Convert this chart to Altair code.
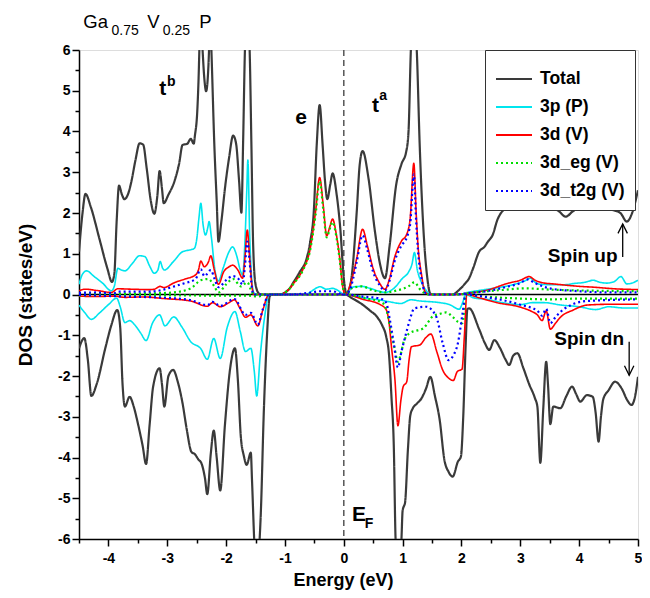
import altair as alt
import pandas as pd

# ---------------- data ----------------
total_up = [(-4.50, 1.05), (-4.44, 2.0), (-4.39, 2.47), (-4.30, 2.15), (-4.15, 1.35), (-4.02, 0.65),
            (-3.94, 0.31), (-3.90, 0.5), (-3.86, 1.8), (-3.82, 2.67), (-3.77, 2.45), (-3.73, 2.34),
            (-3.67, 2.45), (-3.61, 2.77), (-3.54, 3.3), (-3.47, 3.71), (-3.41, 3.68), (-3.35, 3.1),
            (-3.28, 2.3), (-3.22, 1.98), (-3.17, 2.4), (-3.13, 3.03), (-3.09, 2.6), (-3.06, 2.24),
            (-2.98, 2.45), (-2.88, 2.77), (-2.80, 3.2), (-2.74, 3.67), (-2.66, 3.7), (-2.60, 3.82),
            (-2.55, 3.7), (-2.53, 3.9), (-2.49, 4.5), (-2.47, 5.2), (-2.45, 6.2), (-2.43, 6.8),
            (-2.40, 6.0), (-2.37, 5.3), (-2.34, 4.99), (-2.30, 5.63), (-2.29, 6.0), (-2.27, 6.8),
            (-2.25, 6.0), (-2.20, 3.67), (-2.16, 2.3), (-2.13, 1.30), (-2.08, 1.8), (-2.02, 2.6),
            (-1.95, 3.35), (-1.88, 3.90), (-1.83, 3.7), (-1.78, 2.8), (-1.74, 2.01), (-1.71, 3.8),
            (-1.68, 6.0), (-1.64, 7.0), (-1.60, 6.0), (-1.57, 3.67), (-1.54, 1.2), (-1.50, 0.25),
            (-1.44, 0.02), (-1.40, 0.0), (-1.08, 0.0), (-1.00, 0.05), (-0.92, 0.15), (-0.85, 0.31),
            (-0.75, 0.55), (-0.63, 0.89), (-0.57, 1.3), (-0.51, 2.03), (-0.46, 3.67), (-0.41, 4.65),
            (-0.36, 3.67), (-0.32, 2.8), (-0.28, 2.34), (-0.23, 2.7), (-0.19, 2.97), (-0.12, 2.44),
            (-0.06, 1.63), (0.0, 0.4), (0.05, 0.0), (0.13, 0.4), (0.22, 2.03), (0.27, 3.18),
            (0.32, 3.52), (0.42, 2.85), (0.53, 1.54), (0.62, 0.72), (0.70, 0.40), (0.78, 1.21),
            (0.89, 2.69), (0.98, 3.2), (1.06, 3.5), (1.10, 4.0), (1.14, 6.0), (1.19, 7.0),
            (1.24, 6.0), (1.29, 3.67), (1.37, 1.21), (1.42, 0.4), (1.47, 0.02), (1.52, 0.0),
            (1.85, 0.0), (1.95, 0.1), (2.05, 0.25), (2.13, 0.40), (2.20, 0.65), (2.30, 1.05),
            (2.39, 1.17), (2.45, 1.3), (2.53, 1.46), (2.61, 1.83), (2.70, 2.05), (2.90, 2.2),
            (3.20, 2.25), (3.50, 2.15), (3.65, 2.05), (3.77, 1.91), (3.90, 2.05), (4.20, 2.2),
            (4.50, 2.1), (4.70, 2.0), (4.81, 1.79), (4.90, 2.0), (5.00, 2.56)]

total_dn = [(-4.50, -1.32), (-4.41, -1.07), (-4.35, -1.6), (-4.29, -2.49), (-4.20, -2.2), (-4.05, -1.3),
            (-3.95, -0.75), (-3.85, -0.38), (-3.80, -0.8), (-3.76, -2.2), (-3.72, -2.75), (-3.64, -2.51),
            (-3.57, -2.75), (-3.50, -3.16), (-3.42, -3.7), (-3.36, -4.16), (-3.30, -3.2), (-3.24, -2.26),
            (-3.13, -1.81), (-3.09, -2.2), (-3.05, -2.75), (-2.98, -2.0), (-2.90, -1.85), (-2.82, -2.15),
            (-2.74, -2.67), (-2.67, -3.3), (-2.59, -3.86), (-2.53, -3.92), (-2.47, -4.05), (-2.42, -4.14),
            (-2.36, -4.5), (-2.32, -4.90), (-2.26, -3.9), (-2.21, -3.34), (-2.16, -4.0), (-2.10, -4.81),
            (-2.02, -3.2), (-1.93, -1.8), (-1.85, -1.32), (-1.80, -2.1), (-1.75, -3.49), (-1.70, -3.95),
            (-1.65, -4.18), (-1.58, -3.88), (-1.56, -4.55), (-1.52, -6.1), (-1.48, -7.0), (-1.43, -6.0),
            (-1.41, -5.36), (-1.36, -2.91), (-1.30, -0.87), (-1.26, -0.05), (-1.22, 0.0),
            (0.02, 0.0), (0.15, -0.1), (0.33, -0.26), (0.45, -0.4), (0.56, -0.54), (0.65, -0.75),
            (0.72, -1.03), (0.77, -1.5), (0.81, -2.51), (0.85, -3.73), (0.88, -6.0), (0.93, -7.0),
            (0.98, -6.0), (1.00, -5.3), (1.02, -5.2), (1.04, -5.12), (1.09, -3.8), (1.13, -2.97),
            (1.17, -2.8), (1.24, -2.68), (1.32, -2.55), (1.40, -2.3), (1.47, -2.02), (1.55, -2.5),
            (1.63, -3.08), (1.71, -4.06), (1.78, -4.35), (1.85, -4.47), (1.94, -4.10), (1.99, -3.98),
            (2.03, -3.0), (2.07, -1.28), (2.10, -0.36), (2.13, -0.34), (2.30, -0.85), (2.40, -1.2),
            (2.47, -1.36), (2.56, -1.12), (2.65, -1.3), (2.75, -1.6), (2.81, -1.73), (2.88, -1.5),
            (2.95, -1.44), (3.05, -1.8), (3.15, -2.2), (3.25, -2.55), (3.29, -2.75), (3.34, -4.13),
            (3.39, -2.8), (3.44, -1.65), (3.47, -2.2), (3.51, -3.18), (3.56, -2.75), (3.68, -2.79),
            (3.78, -2.5), (3.88, -2.26), (3.95, -2.45), (4.02, -2.63), (4.13, -2.47), (4.23, -2.51),
            (4.28, -2.9), (4.33, -3.61), (4.37, -3.0), (4.41, -2.57), (4.50, -2.35), (4.61, -2.14),
            (4.72, -2.3), (4.82, -2.6), (4.89, -2.71), (4.95, -2.5), (5.00, -2.02)]

p3_up = [(-4.50, 0.25), (-4.44, 0.5), (-4.37, 0.58), (-4.25, 0.45), (-4.10, 0.28), (-3.95, 0.09),
         (-3.90, 0.2), (-3.84, 0.64), (-3.78, 0.6), (-3.72, 0.58), (-3.60, 0.75), (-3.47, 0.95),
         (-3.38, 0.93), (-3.30, 0.7), (-3.22, 0.52), (-3.16, 0.6), (-3.12, 0.81), (-3.08, 0.65),
         (-3.05, 0.60), (-2.90, 0.8), (-2.74, 1.05), (-2.60, 1.1), (-2.54, 1.13), (-2.50, 1.35),
         (-2.46, 1.9), (-2.43, 2.24), (-2.39, 1.7), (-2.35, 1.46), (-2.31, 1.65), (-2.29, 1.79),
         (-2.25, 1.4), (-2.19, 0.6), (-2.13, 0.33), (-2.05, 0.65), (-1.95, 1.05), (-1.89, 1.17),
         (-1.82, 0.95), (-1.76, 0.6), (-1.72, 0.48), (-1.68, 1.3), (-1.65, 2.5), (-1.63, 3.30),
         (-1.60, 1.5), (-1.56, 0.3), (-1.53, 0.05), (-1.48, 0.0), (-0.65, 0.0), (-0.55, 0.08),
         (-0.45, 0.17), (-0.40, 0.19), (-0.30, 0.13), (-0.19, 0.15), (-0.10, 0.1), (-0.03, 0.03),
         (0.03, 0.0), (0.10, 0.12), (0.18, 0.19), (0.30, 0.2), (0.45, 0.15), (0.60, 0.08),
         (0.70, 0.05), (0.85, 0.15), (1.00, 0.4), (1.10, 0.55), (1.16, 0.75), (1.20, 1.03),
         (1.25, 0.6), (1.32, 0.3), (1.40, 0.1), (1.47, 0.0), (1.95, 0.0), (2.10, 0.05),
         (2.40, 0.12), (2.67, 0.18), (2.90, 0.25), (3.10, 0.35), (3.17, 0.40), (3.25, 0.3),
         (3.34, 0.25), (3.56, 0.24), (3.75, 0.24), (3.91, 0.27), (4.10, 0.3), (4.24, 0.35),
         (4.35, 0.3), (4.47, 0.28), (4.60, 0.32), (4.71, 0.44), (4.81, 0.26), (4.90, 0.28),
         (5.00, 0.35)]

p3_dn = [(-4.50, -0.26), (-4.40, -0.45), (-4.29, -0.61), (-4.15, -0.45), (-4.00, -0.25), (-3.86, -0.09),
         (-3.80, -0.3), (-3.72, -0.69), (-3.64, -0.64), (-3.55, -0.75), (-3.45, -0.95), (-3.36, -1.13),
         (-3.25, -0.7), (-3.13, -0.50), (-3.04, -0.77), (-2.89, -0.55), (-2.75, -0.8), (-2.60, -1.16),
         (-2.43, -1.33), (-2.32, -1.59), (-2.21, -1.08), (-2.10, -1.57), (-1.98, -0.8), (-1.85, -0.42),
         (-1.76, -0.9), (-1.67, -1.40), (-1.58, -1.32), (-1.52, -1.9), (-1.48, -2.49), (-1.42, -1.5),
         (-1.35, -0.6), (-1.27, 0.0), (0.02, 0.0), (0.20, -0.05), (0.40, -0.1), (0.60, -0.13),
         (0.78, -0.18), (0.97, -0.22), (1.14, -0.13), (1.30, -0.16), (1.50, -0.18), (1.63, -0.2),
         (1.80, -0.25), (1.96, -0.36), (2.02, -0.2), (2.07, 0.0), (2.20, -0.08), (2.44, -0.12),
         (2.70, -0.2), (3.00, -0.25), (3.20, -0.2), (3.40, -0.2), (3.70, -0.26), (4.00, -0.3),
         (4.28, -0.37), (4.50, -0.3), (4.75, -0.33), (5.00, -0.33)]

d3_up = [(-4.50, 0.09), (-4.40, 0.13), (-4.20, 0.1), (-3.95, 0.05), (-3.84, 0.14), (-3.60, 0.13),
         (-3.30, 0.12), (-3.22, 0.13), (-3.12, 0.2), (-3.06, 0.17), (-2.88, 0.29), (-2.70, 0.38),
         (-2.52, 0.48), (-2.47, 0.6), (-2.43, 0.82), (-2.37, 0.68), (-2.30, 0.8), (-2.26, 0.95),
         (-2.20, 0.6), (-2.13, 0.25), (-2.04, 0.56), (-1.95, 0.68), (-1.89, 0.72), (-1.80, 0.6),
         (-1.72, 0.4), (-1.68, 0.9), (-1.64, 1.58), (-1.60, 0.9), (-1.56, 0.2), (-1.53, 0.0),
         (-1.10, 0.0), (-0.95, 0.1), (-0.85, 0.28), (-0.70, 0.6), (-0.57, 1.13), (-0.48, 2.03),
         (-0.41, 2.87), (-0.35, 2.2), (-0.29, 1.44), (-0.24, 1.65), (-0.19, 1.85), (-0.13, 1.5),
         (-0.07, 0.9), (-0.02, 0.2), (0.03, 0.0), (0.10, 0.2), (0.16, 0.5), (0.22, 0.89),
         (0.32, 1.60), (0.40, 1.2), (0.50, 0.63), (0.60, 0.3), (0.70, 0.13), (0.78, 0.4),
         (0.86, 0.89), (0.98, 1.31), (1.07, 1.48), (1.13, 1.9), (1.19, 3.22), (1.23, 2.0),
         (1.26, 1.23), (1.32, 0.5), (1.38, 0.07), (1.45, 0.0), (1.90, 0.0), (2.10, 0.03),
         (2.44, 0.11), (2.80, 0.28), (3.00, 0.35), (3.15, 0.44), (3.25, 0.35), (3.37, 0.29),
         (3.56, 0.26), (4.00, 0.2), (4.24, 0.18), (4.60, 0.14), (5.00, 0.12)]

d3_dn = [(-4.50, -0.04), (-4.20, -0.05), (-3.90, -0.04), (-3.72, -0.07), (-3.40, -0.06), (-3.05, -0.1),
         (-2.60, -0.16), (-2.32, -0.29), (-2.23, -0.2), (-2.10, -0.3), (-1.95, -0.2), (-1.86, -0.13),
         (-1.76, -0.35), (-1.67, -0.56), (-1.58, -0.5), (-1.46, -0.77), (-1.38, -0.4), (-1.27, 0.0),
         (0.02, 0.0), (0.33, -0.12), (0.62, -0.25), (0.72, -0.37), (0.77, -0.7), (0.81, -1.28),
         (0.87, -2.1), (0.92, -3.22), (0.97, -2.6), (1.01, -2.26), (1.07, -2.14), (1.11, -1.6),
         (1.15, -1.28), (1.29, -1.24), (1.40, -1.05), (1.48, -0.97), (1.58, -1.4), (1.68, -1.85),
         (1.78, -2.05), (1.86, -2.11), (1.93, -1.89), (2.01, -1.83), (2.05, -1.0), (2.09, 0.0),
         (2.30, -0.08), (2.60, -0.2), (3.00, -0.31), (3.20, -0.42), (3.29, -0.5), (3.37, -0.64),
         (3.44, -0.4), (3.51, -0.85), (3.60, -0.7), (3.68, -0.56), (3.90, -0.38), (4.13, -0.26),
         (4.50, -0.24), (5.00, -0.24)]

eg_up = [(-4.50, 0.03), (-3.90, 0.02), (-3.20, 0.03), (-2.90, 0.05), (-2.60, 0.15), (-2.43, 0.35),
         (-2.30, 0.38), (-2.20, 0.2), (-2.13, 0.05), (-2.00, 0.25), (-1.88, 0.38), (-1.75, 0.2),
         (-1.64, 0.3), (-1.56, 0.05), (-1.52, 0.0), (-1.10, 0.0), (-0.95, 0.1), (-0.85, 0.27),
         (-0.70, 0.58), (-0.57, 1.1), (-0.48, 1.95), (-0.41, 2.78), (-0.35, 2.1), (-0.29, 1.40),
         (-0.24, 1.6), (-0.19, 1.78), (-0.13, 1.45), (-0.07, 0.85), (-0.02, 0.2), (0.03, 0.0),
         (0.10, 0.12), (0.20, 0.18), (0.30, 0.2), (0.50, 0.1), (0.70, 0.05), (0.90, 0.1),
         (1.10, 0.2), (1.20, 0.3), (1.30, 0.12), (1.45, 0.0), (1.90, 0.0), (2.20, 0.05),
         (2.60, 0.1), (3.10, 0.15), (3.50, 0.12), (4.00, 0.1), (5.00, 0.08)]

eg_dn = [(-4.50, -0.02), (-1.60, -0.03), (-1.46, -0.05), (-1.30, 0.0), (0.02, 0.0), (0.40, -0.1),
         (0.65, -0.2), (0.72, -0.35), (0.80, -0.9), (0.86, -1.3), (0.92, -1.65), (0.97, -1.45),
         (1.02, -1.15), (1.12, -0.95), (1.25, -0.88), (1.35, -0.83), (1.51, -0.54), (1.62, -0.48),
         (1.74, -0.44), (1.85, -0.55), (1.94, -0.67), (2.02, -0.7), (2.07, 0.0), (2.40, -0.05),
         (3.00, -0.1), (3.50, -0.12), (4.00, -0.1), (5.00, -0.1)]

t2g_up = [(-4.50, 0.04), (-4.20, 0.05), (-3.90, 0.03), (-3.84, 0.07), (-3.30, 0.07), (-3.12, 0.1),
          (-2.88, 0.2), (-2.70, 0.28), (-2.52, 0.38), (-2.43, 0.62), (-2.37, 0.45), (-2.26, 0.6),
          (-2.20, 0.4), (-2.13, 0.18), (-2.00, 0.35), (-1.89, 0.45), (-1.80, 0.4), (-1.72, 0.25),
          (-1.68, 0.7), (-1.64, 1.3), (-1.60, 0.8), (-1.56, 0.15), (-1.53, 0.0), (-0.90, 0.0),
          (-0.60, 0.04), (-0.40, 0.08), (-0.20, 0.08), (0.0, 0.0), (0.10, 0.1), (0.16, 0.4),
          (0.22, 0.8), (0.32, 1.45), (0.40, 1.1), (0.50, 0.55), (0.60, 0.25), (0.70, 0.1),
          (0.78, 0.35), (0.86, 0.8), (0.98, 1.2), (1.07, 1.4), (1.13, 1.75), (1.19, 2.95),
          (1.23, 1.8), (1.26, 1.1), (1.32, 0.4), (1.38, 0.05), (1.45, 0.0), (1.90, 0.0),
          (2.10, 0.03), (2.50, 0.1), (2.80, 0.2), (3.00, 0.28), (3.12, 0.37), (3.25, 0.28),
          (3.50, 0.15), (4.00, 0.08), (4.50, 0.05), (5.00, 0.05)]

t2g_dn = [(-4.50, -0.01), (-3.72, -0.05), (-3.05, -0.08), (-2.60, -0.14), (-2.32, -0.26), (-2.23, -0.18),
          (-2.10, -0.28), (-1.86, -0.11), (-1.67, -0.5), (-1.58, -0.45), (-1.46, -0.74), (-1.38, -0.38),
          (-1.27, 0.0), (0.02, 0.0), (0.33, -0.05), (0.62, -0.1), (0.72, -0.2), (0.78, -0.6),
          (0.85, -1.2), (0.92, -1.79), (0.98, -1.4), (1.04, -1.06), (1.12, -0.63), (1.20, -0.34),
          (1.40, -0.3), (1.57, -0.54), (1.68, -1.19), (1.78, -1.61), (1.86, -1.5), (1.94, -1.19),
          (2.02, -0.45), (2.07, 0.0), (2.40, -0.06), (3.00, -0.25), (3.29, -0.4), (3.37, -0.52),
          (3.44, -0.35), (3.51, -0.7), (3.60, -0.55), (3.74, -0.36), (4.13, -0.16), (5.00, -0.12)]

series_names = ["Total", "3p (P)", "3d (V)", "3d_eg (V)", "3d_t2g (V)"]
series_colors = ["#3a3a3a", "#00e5ee", "#ff0000", "#00dd00", "#0000ff"]
series_dash = [[1, 0], [1, 0], [1, 0], [2, 3], [2, 3]]
series_width = [2.2, 1.6, 1.6, 2.2, 2.2]

curves = [("Total", "up", total_up), ("Total", "dn", total_dn),
          ("3p (P)", "up", p3_up), ("3p (P)", "dn", p3_dn),
          ("3d (V)", "up", d3_up), ("3d (V)", "dn", d3_dn),
          ("3d_eg (V)", "up", eg_up), ("3d_eg (V)", "dn", eg_dn),
          ("3d_t2g (V)", "up", t2g_up), ("3d_t2g (V)", "dn", t2g_dn)]

rows = []
for name, spin, pts in curves:
    for i, (e, d) in enumerate(pts):
        rows.append({"series": name, "spin": spin, "E": e, "DOS": d, "idx": i})
df = pd.DataFrame(rows)

# annotations
labels_big = pd.DataFrame({"E": [-3.076, -0.725, 0.54, 0.26],
                           "DOS": [5.035, 4.34, 4.63, -5.41],
                           "text": ["t", "e", "t", "E"]})
labels_sup = pd.DataFrame({"E": [-2.93, 0.67, 0.43],
                           "DOS": [5.22, 4.88, -5.63],
                           "text": ["b", "a", "F"]})
spin_labels = pd.DataFrame({"E": [4.06, 4.17], "DOS": [0.94, -1.09], "text": ["Spin up", "Spin dn"]})
title_main = pd.DataFrame({"E": [-4.427, -3.34, -2.456], "DOS": [6.532, 6.532, 6.532],
                           "text": ["Ga", "V", "P"]})
title_sub = pd.DataFrame({"E": [-3.948, -3.076], "DOS": [6.368, 6.368], "text": ["0.75", "0.25"]})
arrows = pd.DataFrame({
    "E":   [4.74, 4.74, 4.66, 4.74, 4.82, 4.85, 4.85, 4.77, 4.85, 4.93],
    "DOS": [0.92, 1.73, 1.50, 1.73, 1.50, -1.16, -1.98, -1.75, -1.98, -1.75],
    "grp": ["s1", "s1", "h1", "h1", "h1", "s2", "s2", "h2", "h2", "h2"],
    "k":   [0, 1, 0, 1, 2, 0, 1, 0, 1, 2]})

FONT = "Liberation Sans"
half_x = [v / 2 for v in range(-9, 11)]
half_y = [v / 2 for v in range(-12, 13)]
tick_cond = {"condition": {"test": "datum.value % 1 !== 0", "value": 4}, "value": 7}
lab_expr = "datum.value % 1 === 0 ? '' + datum.value : ''"

xaxis = alt.Axis(values=half_x, labelExpr=lab_expr, tickSize=tick_cond, title="Energy (eV)",
                 titleFontSize=18, titleFontWeight="bold", titleFont=FONT, titleColor="black",
                 labelFontSize=14, labelFontWeight="bold", labelFont=FONT, labelColor="black",
                 labelFlush=False, labelOverlap=False, labelPadding=5, titlePadding=6, titleX=264,
                 grid=False, domainColor="black", domainWidth=1.5, tickColor="black", tickWidth=1.5)
yaxis = alt.Axis(values=half_y, labelExpr=lab_expr, tickSize=tick_cond, title="DOS (states/eV)",
                 titleFontSize=19, titleFontWeight="bold", titleFont=FONT, titleColor="black",
                 labelFontSize=14, labelFontWeight="bold", labelFont=FONT, labelColor="black",
                 labelFlush=False, labelOverlap=False, labelPadding=2, titlePadding=22,
                 grid=False, domainColor="black", domainWidth=1.5, tickColor="black", tickWidth=1.5)
xscale = alt.Scale(domain=[-4.5, 5], nice=False, zero=False)
yscale = alt.Scale(domain=[-6, 6], nice=False, zero=False)

X = alt.X("E:Q", scale=xscale, axis=xaxis)
Y = alt.Y("DOS:Q", scale=yscale, axis=yaxis)

legend = alt.Legend(orient="none", legendX=406, legendY=0, title=None,
                    labelFontSize=17.5, labelFont=FONT, labelFontWeight="bold", labelColor="black",
                    symbolType="stroke", symbolSize=1296, symbolStrokeWidth=2,
                    padding=10, rowPadding=-9, labelOffset=7,
                    strokeColor="#333333", fillColor="white")
color = alt.Color("series:N", scale=alt.Scale(domain=series_names, range=series_colors), legend=legend)
dash = alt.StrokeDash("series:N", scale=alt.Scale(domain=series_names, range=series_dash), legend=legend)

zero_line = alt.Chart(pd.DataFrame({"DOS": [0]})).mark_rule(color="black", strokeWidth=1.5).encode(y=Y)
ef_line = alt.Chart(pd.DataFrame({"E": [0]})).mark_rule(color="#555555", strokeWidth=1.5,
                                                        strokeDash=[6, 4]).encode(x=X)

layers = [zero_line, ef_line]
base = alt.Chart(df)
for name, w in zip(series_names, series_width):
    layers.append(
        base.transform_filter(alt.datum.series == name)
        .mark_line(clip=True, interpolate="monotone", strokeWidth=w)
        .encode(x=X, y=Y, color=color, strokeDash=dash, detail="spin:N", order="idx:Q")
    )

txt_big = alt.Chart(labels_big).mark_text(font=FONT, fontWeight="bold", fontSize=21, color="black",
                                          align="center", baseline="middle").encode(x=X, y=Y, text="text:N")
txt_sup = alt.Chart(labels_sup).mark_text(font=FONT, fontWeight="bold", fontSize=14, color="black",
                                          align="center", baseline="middle").encode(x=X, y=Y, text="text:N")
txt_spin = alt.Chart(spin_labels).mark_text(font=FONT, fontWeight="bold", fontSize=19, color="black",
                                            align="center", baseline="middle").encode(x=X, y=Y, text="text:N")
txt_title = alt.Chart(title_main).mark_text(font=FONT, fontSize=18.5, color="black",
                                            align="left", baseline="alphabetic").encode(x=X, y=Y, text="text:N")
txt_tsub = alt.Chart(title_sub).mark_text(font=FONT, fontSize=14, color="black",
                                          align="left", baseline="alphabetic").encode(x=X, y=Y, text="text:N")
arrow_lines = alt.Chart(arrows).mark_line(color="black", strokeWidth=1.3).encode(
    x=X, y=Y, detail="grp:N", order="k:Q")

chart = alt.layer(*layers, txt_big, txt_sup, txt_spin, txt_title, txt_tsub, arrow_lines).properties(
    width=559, height=489,
    autosize=alt.AutoSizeParams(type="none"),
    padding={"left": 71, "top": 42, "right": 4, "bottom": 55},
).configure_view(stroke="black", strokeWidth=1.5).configure(font=FONT)

chart.save("out.html", embed_options={"renderer": "svg", "actions": False})
